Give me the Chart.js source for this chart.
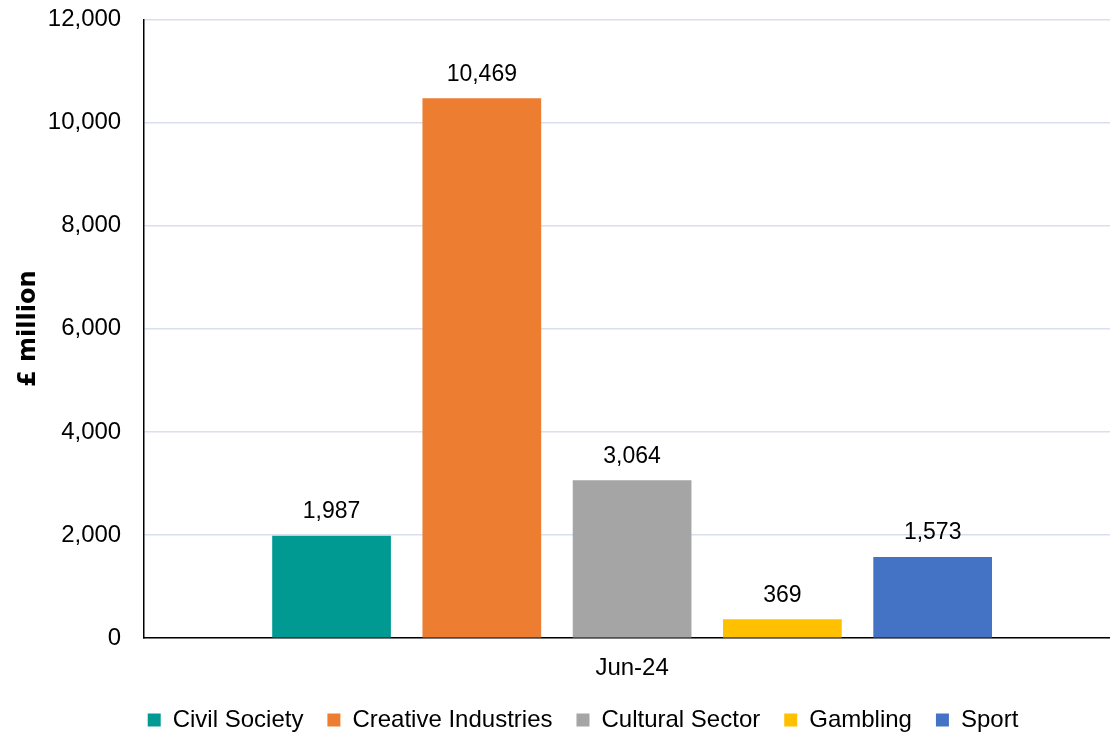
<!DOCTYPE html>
<html>
<head>
<meta charset="utf-8">
<script src="https://cdn.jsdelivr.net/npm/chart.js@4/dist/chart.umd.min.js"></script>
<style>
  html, body { margin: 0; padding: 0; background: #fff; }
  #wrap { width: 1110px; height: 733px; position: relative; }
</style>
</head>
<body>
<div id="wrap"><canvas id="sectorChart"></canvas></div>
<script>
const periods = ['Jun-24'];
const sectors = ['Civil Society', 'Creative Industries', 'Cultural Sector', 'Gambling', 'Sport'];
const sectorValues = [1987, 10469, 3064, 369, 1573];
const sectorColours = ['#009a93', '#ed7d31', '#a5a5a5', '#ffc000', '#4472c4'];

const FONT = "'Liberation Sans', Arial, sans-serif";

// writes the value above each bar
const valueLabels = {
  id: 'valueLabels',
  afterDatasetsDraw(chart) {
    const ctx = chart.ctx;
    ctx.save();
    ctx.font = '23px ' + FONT;
    ctx.fillStyle = '#000';
    ctx.textAlign = 'center';
    ctx.textBaseline = 'middle';
    chart.data.datasets.forEach((ds, i) => {
      chart.getDatasetMeta(i).data.forEach((bar, j) => {
        ctx.fillText(ds.data[j].toLocaleString('en-GB'), bar.x, bar.y - 24);
      });
    });
    ctx.restore();
  }
};

// legend sits a bit right of centre in the original
const legendShift = {
  id: 'legendShift',
  afterLayout(chart) {
    chart.legend.left += 28;
    chart.legend.right += 28;
  }
};

const datasets = sectors.map((name, i) => ({
  label: name,
  data: [sectorValues[i]],
  backgroundColor: sectorColours[i],
  borderWidth: 0,
  categoryPercentage: 0.778,
  barPercentage: 0.79,
}));

new Chart(document.getElementById('sectorChart').getContext('2d'), {
  type: 'bar',
  data: { labels: periods, datasets: datasets },
  plugins: [valueLabels, legendShift],
  options: {
    responsive: true,
    maintainAspectRatio: false,
    animation: false,
    layout: { padding: 0 },
    plugins: {
      tooltip: { enabled: false },
      legend: {
        position: 'bottom',
        maxHeight: 49,
        labels: {
          boxWidth: 13,
          boxHeight: 13,
          padding: 24,
          color: '#000',
          font: { size: 24, family: FONT },
        }
      }
    },
    scales: {
      x: {
        grid: { color: 'transparent', drawTicks: true, tickLength: 15, tickColor: 'transparent' },
        border: { color: '#000', width: 1.5 },
        ticks: { color: '#000', padding: 1, font: { size: 24, family: FONT } },
        // the bar group in the original sits ~5px right of the category centre
        afterUpdate: s => { s._startValue -= 5 / s.width; },
      },
      y: {
        min: 0,
        max: 12000,
        grid: { color: '#d9dfee', lineWidth: 1.5, drawTicks: true, tickLength: 18, tickColor: 'transparent' },
        border: { color: '#000', width: 1.5 },
        ticks: {
          stepSize: 2000,
          color: '#000',
          padding: 5,
          font: { size: 24, family: FONT },
          callback: v => v.toLocaleString('en-GB'),
        },
        title: {
          display: true,
          text: '£ million',
          color: '#000',
          padding: { top: 14, bottom: 0 },
          font: { size: 24, weight: 'bold', family: "'DejaVu Sans', sans-serif" },
        }
      }
    }
  }
});
</script>
</body>
</html>
